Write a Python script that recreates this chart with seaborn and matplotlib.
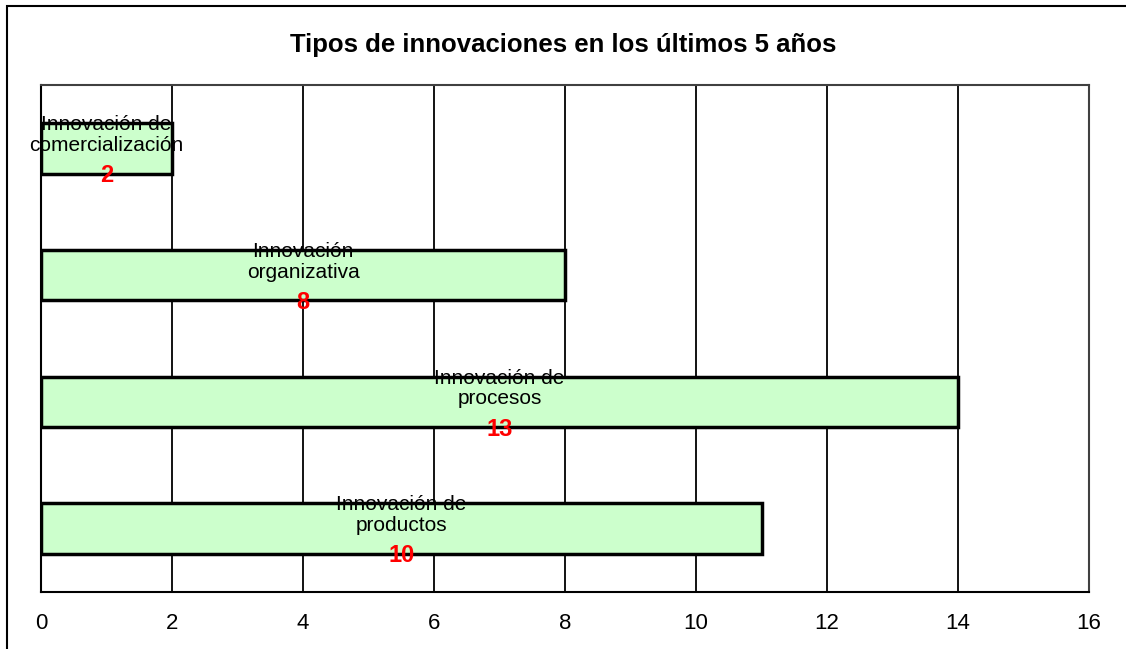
import pandas as pd
import numpy as np
import matplotlib.pyplot as plt
import seaborn as sns
from matplotlib.patches import Rectangle

# data (top to bottom)
categorias = ['Innovación de\ncomercialización', 'Innovación\norganizativa',
              'Innovación de\nprocesos', 'Innovación de\nproductos']
largo_barra = [2, 8, 14, 11]
etiqueta_valor = [2, 8, 13, 10]
x_ticks = [0, 2, 4, 6, 8, 10, 12, 14, 16]

df = pd.DataFrame({'tipo': categorias, 'valor': largo_barra})

sns.set_style('white')
plt.rcParams['font.family'] = ['Liberation Sans', 'DejaVu Sans']
plt.rcParams['text.color'] = 'black'
plt.rcParams['xtick.color'] = 'black'

fig = plt.figure(figsize=(11.26, 6.49), dpi=100)
ax = fig.add_axes([41/1126, 1 - 592/649, (1089 - 41)/1126, (592 - 85)/649])

sns.barplot(data=df, x='valor', y='tipo', orient='h', color='#CCFFCC',
            edgecolor='black', linewidth=2.5, width=0.4, saturation=1, ax=ax)

ax.set_xlim(0, 16)
ax.set_ylim(3.5, -0.5)
ax.set_xticks(x_ticks)
ax.set_xticklabels([str(t) for t in x_ticks], fontsize=16, color='black')
ax.set_yticks([])
ax.set_xlabel('')
ax.set_ylabel('')
ax.xaxis.grid(True, color='black', linewidth=1.3)
ax.set_axisbelow(True)
ax.tick_params(axis='x', direction='out', length=6, width=1.3, color='black', pad=9)

for side in ['left', 'bottom']:
    ax.spines[side].set_color('black')
    ax.spines[side].set_linewidth(1.5)
for side in ['top', 'right']:
    ax.spines[side].set_color('#404040')
    ax.spines[side].set_linewidth(1.5)

for i, (nombre, largo, val) in enumerate(zip(categorias, largo_barra, etiqueta_valor)):
    ax.text(largo / 2, i - 0.105, nombre, ha='center', va='center',
            fontsize=15, color='black', linespacing=1.12)
    ax.text(largo / 2, i + 0.215, str(val), ha='center', va='center',
            fontsize=17, fontweight='bold', color='red')

fig.text(0.5, 1 - 45/649, 'Tipos de innovaciones en los últimos 5 años',
         ha='center', va='center', fontsize=18.5, fontweight='bold', color='black')

fig.patches.append(Rectangle((7/1126, -0.1), 1.2, 1 - 6/649 + 0.1,
                             transform=fig.transFigure, fill=False,
                             edgecolor='black', linewidth=1.5))

fig.savefig('out.png', dpi=100)
